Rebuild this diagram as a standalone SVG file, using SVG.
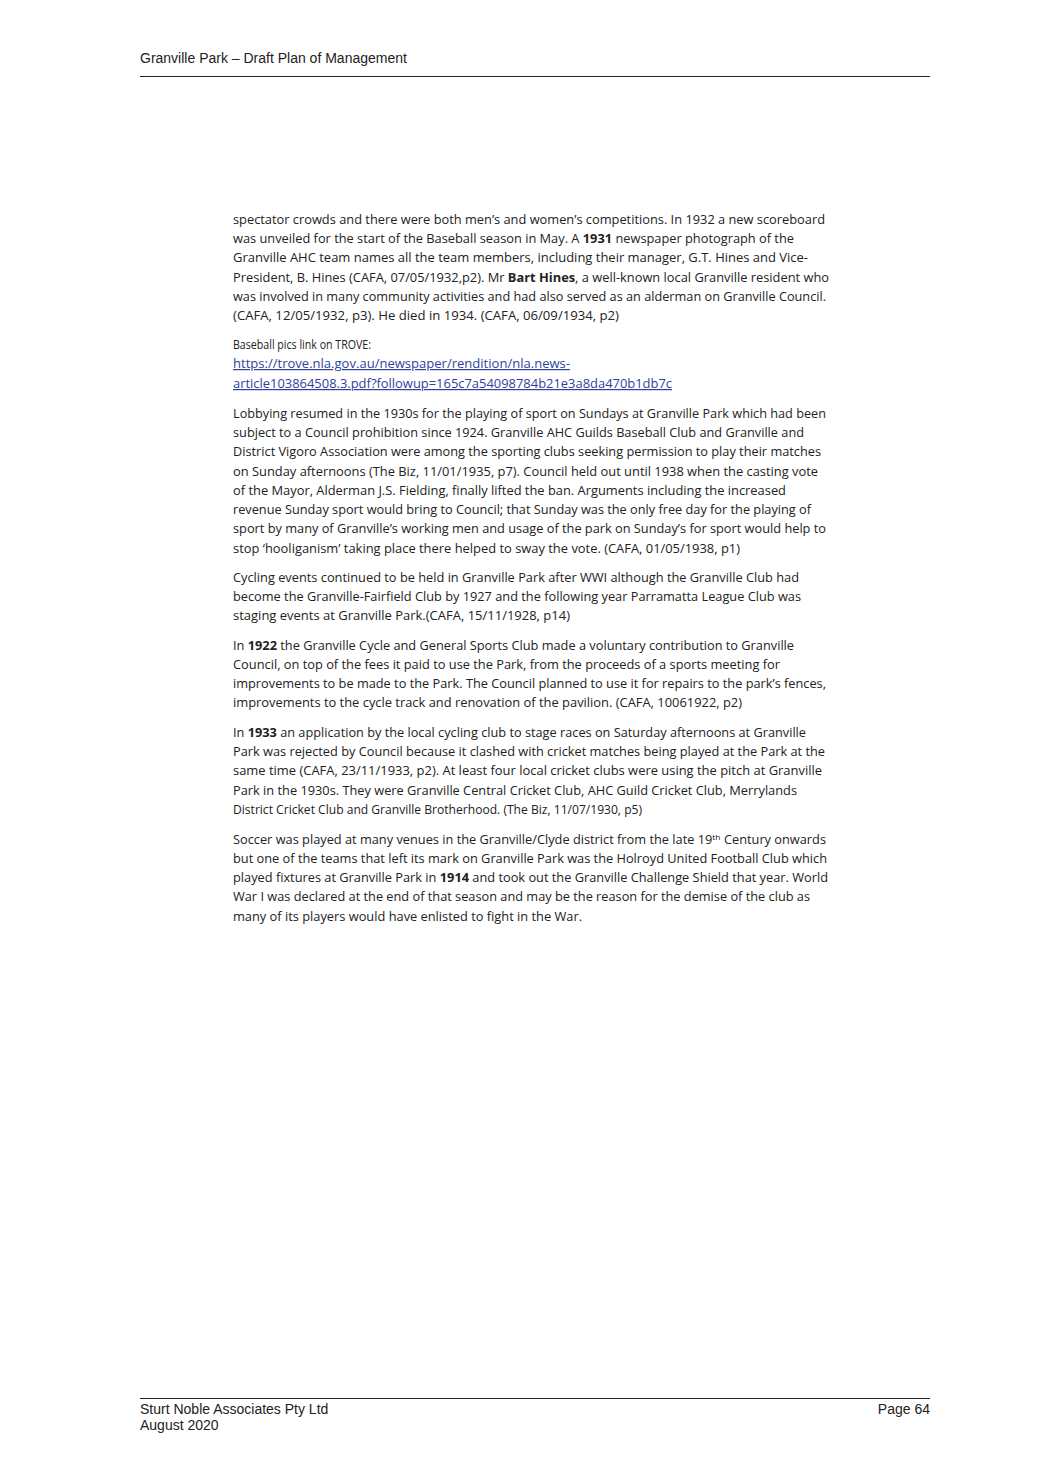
<svg xmlns="http://www.w3.org/2000/svg" width="1041" height="1484" viewBox="0 0 1041 1484">
<style>
.h{font-family:"Liberation Sans",Arial,sans-serif;font-size:14px;fill:#222}
.b{font-family:"Open Sans","Liberation Sans",sans-serif;font-size:12px;fill:#222}
.k{font-weight:bold}
.l{fill:#2e3f9e;text-decoration:underline}
</style>
<rect width="1041" height="1484" fill="#fff"/>
<g id="header">
<text class="h" x="140" y="63">Granville Park – Draft Plan of Management</text>
<line x1="140" y1="76.5" x2="930" y2="76.5" stroke="#222" stroke-width="1"/>
</g>
<g id="body" class="b">
<text x="233" y="224" textLength="592" lengthAdjust="spacingAndGlyphs">spectator crowds and there were both men’s and women’s competitions. In 1932 a new scoreboard</text>
<text x="233" y="243" textLength="561" lengthAdjust="spacingAndGlyphs">was unveiled for the start of the Baseball season in May. A <tspan class="k">1931</tspan> newspaper photograph of the</text>
<text x="233" y="262" textLength="575" lengthAdjust="spacingAndGlyphs">Granville AHC team names all the team members, including their manager, G.T. Hines and Vice-</text>
<text x="233" y="282" textLength="596" lengthAdjust="spacingAndGlyphs">President, B. Hines (CAFA, 07/05/1932,p2). Mr <tspan class="k">Bart Hines</tspan>, a well-known local Granville resident who</text>
<text x="233" y="301" textLength="593" lengthAdjust="spacingAndGlyphs">was involved in many community activities and had also served as an alderman on Granville Council.</text>
<text x="233" y="320" textLength="386" lengthAdjust="spacingAndGlyphs">(CAFA, 12/05/1932, p3). He died in 1934. (CAFA, 06/09/1934, p2)</text>

<text x="233" y="349" textLength="138" lengthAdjust="spacingAndGlyphs">Baseball pics link on TROVE:</text>
<text class="l" x="233" y="368" textLength="337" lengthAdjust="spacingAndGlyphs">https://trove.nla.gov.au/newspaper/rendition/nla.news-</text>
<text class="l" x="233" y="388" textLength="439" lengthAdjust="spacingAndGlyphs">article103864508.3.pdf?followup=165c7a54098784b21e3a8da470b1db7c</text>

<text x="233" y="418" textLength="593" lengthAdjust="spacingAndGlyphs">Lobbying resumed in the 1930s for the playing of sport on Sundays at Granville Park which had been</text>
<text x="233" y="437" textLength="571" lengthAdjust="spacingAndGlyphs">subject to a Council prohibition since 1924. Granville AHC Guilds Baseball Club and Granville and</text>
<text x="233" y="456" textLength="588" lengthAdjust="spacingAndGlyphs">District Vigoro Association were among the sporting clubs seeking permission to play their matches</text>
<text x="233" y="476" textLength="585" lengthAdjust="spacingAndGlyphs">on Sunday afternoons (The Biz, 11/01/1935, p7). Council held out until 1938 when the casting vote</text>
<text x="233" y="495" textLength="553" lengthAdjust="spacingAndGlyphs">of the Mayor, Alderman J.S. Fielding, finally lifted the ban. Arguments including the increased</text>
<text x="233" y="514" textLength="578" lengthAdjust="spacingAndGlyphs">revenue Sunday sport would bring to Council; that Sunday was the only free day for the playing of</text>
<text x="233" y="533" textLength="593" lengthAdjust="spacingAndGlyphs">sport by many of Granville’s working men and usage of the park on Sunday’s for sport would help to</text>
<text x="233" y="553" textLength="507" lengthAdjust="spacingAndGlyphs">stop ‘hooliganism’ taking place there helped to sway the vote. (CAFA, 01/05/1938, p1)</text>

<text x="233" y="582" textLength="566" lengthAdjust="spacingAndGlyphs">Cycling events continued to be held in Granville Park after WWI although the Granville Club had</text>
<text x="233" y="601" textLength="568" lengthAdjust="spacingAndGlyphs">become the Granville-Fairfield Club by 1927 and the following year Parramatta League Club was</text>
<text x="233" y="620" textLength="337" lengthAdjust="spacingAndGlyphs">staging events at Granville Park.(CAFA, 15/11/1928, p14)</text>

<text x="233" y="650" textLength="561" lengthAdjust="spacingAndGlyphs">In <tspan class="k">1922</tspan> the Granville Cycle and General Sports Club made a voluntary contribution to Granville</text>
<text x="233" y="669" textLength="547" lengthAdjust="spacingAndGlyphs">Council, on top of the fees it paid to use the Park, from the proceeds of a sports meeting for</text>
<text x="233" y="688" textLength="593" lengthAdjust="spacingAndGlyphs">improvements to be made to the Park. The Council planned to use it for repairs to the park’s fences,</text>
<text x="233" y="707" textLength="509" lengthAdjust="spacingAndGlyphs">improvements to the cycle track and renovation of the pavilion. (CAFA, 10061922, p2)</text>

<text x="233" y="737" textLength="573" lengthAdjust="spacingAndGlyphs">In <tspan class="k">1933</tspan> an application by the local cycling club to stage races on Saturday afternoons at Granville</text>
<text x="233" y="756" textLength="592" lengthAdjust="spacingAndGlyphs">Park was rejected by Council because it clashed with cricket matches being played at the Park at the</text>
<text x="233" y="775" textLength="589" lengthAdjust="spacingAndGlyphs">same time (CAFA, 23/11/1933, p2). At least four local cricket clubs were using the pitch at Granville</text>
<text x="233" y="795" textLength="564" lengthAdjust="spacingAndGlyphs">Park in the 1930s. They were Granville Central Cricket Club, AHC Guild Cricket Club, Merrylands</text>
<text x="233" y="814" textLength="409" lengthAdjust="spacingAndGlyphs">District Cricket Club and Granville Brotherhood. (The Biz, 11/07/1930, p5)</text>

<text x="233" y="844" textLength="593" lengthAdjust="spacingAndGlyphs">Soccer was played at many venues in the Granville/Clyde district from the late 19<tspan font-size="8" dy="-4">th</tspan><tspan dy="4"> Century onwards</tspan></text>
<text x="233" y="863" textLength="594" lengthAdjust="spacingAndGlyphs">but one of the teams that left its mark on Granville Park was the Holroyd United Football Club which</text>
<text x="233" y="882" textLength="595" lengthAdjust="spacingAndGlyphs">played fixtures at Granville Park in <tspan class="k">1914</tspan> and took out the Granville Challenge Shield that year. World</text>
<text x="233" y="901" textLength="577" lengthAdjust="spacingAndGlyphs">War I was declared at the end of that season and may be the reason for the demise of the club as</text>
<text x="233" y="921" textLength="349" lengthAdjust="spacingAndGlyphs">many of its players would have enlisted to fight in the War.</text>
</g>
<g id="footer" class="h">
<line x1="140" y1="1398.5" x2="930" y2="1398.5" stroke="#222" stroke-width="1"/>
<text x="140" y="1414">Sturt Noble Associates Pty Ltd</text>
<text x="140" y="1430">August 2020</text>
<text x="930" y="1414" text-anchor="end">Page 64</text>
</g>
</svg>
